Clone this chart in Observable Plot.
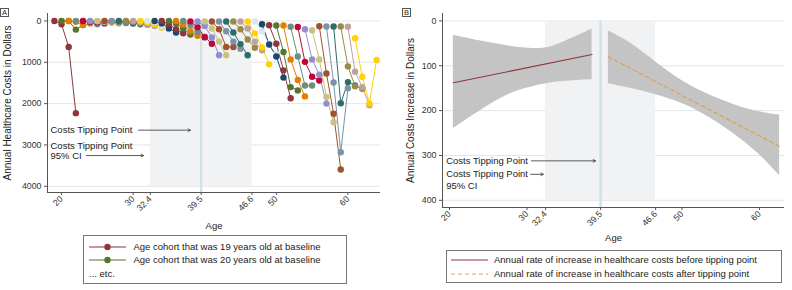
<!DOCTYPE html>
<html>
<head>
<meta charset="utf-8">
<script src="https://cdn.jsdelivr.net/npm/d3@7"></script>
<script src="https://cdn.jsdelivr.net/npm/@observablehq/plot@0.6"></script>
<style>
  body { margin: 0; background: #fff; }
  #chart { position: relative; width: 792px; height: 290px; overflow: hidden;
           font-family: "Liberation Sans", Arial, Helvetica, sans-serif; color: #222; }
  .panel { position: absolute; top: 0; }
  .tag { position: absolute; font-size: 7.5px; line-height: 7px; border: 1px solid #555;
         padding: 0 1px; background: #fff; }
  .legend { position: absolute; border: 1px solid #777; box-sizing: border-box; font-size: 9.5px; background: #fff; }
  .legend .row { position: absolute; left: 0; height: 12px; white-space: nowrap; }
  .legend .row svg { position: absolute; left: 0; top: 0; }
  .legend .row span { position: absolute; top: 0; line-height: 12px; }
</style>
</head>
<body>
<div id="chart"></div>
<script>
// ---- shared axis values ----
const ageTicks = [20, 30, 32.4, 39.5, 46.6, 50, 60];
const costTicks = [0, 1000, 2000, 3000, 4000];
const increaseTicks = [0, 100, 200, 300, 400];
const tippingPoint = 39.5;
const tippingCI = [32.4, 46.6];

// ---- panel A: annual healthcare costs by baseline-age cohort ----
const cohortBaseline = [19, 20, 21, 22, 23, 24, 25, 26, 27, 28, 29, 30, 31, 32, 33, 34, 35, 36, 37, 38,
  39, 40, 41, 42, 43, 44, 45, 46, 47, 48, 49, 50, 51, 52, 53, 54, 55, 56, 57, 58, 59, 60, 61];
const waveOffsets = [0, 1, 2, 3];
const cohortCosts = [
  [0, 80, 630, 2230],
  [0, 0, 210, 100],
  [0, 20, 100, 60],
  [0, 10, 40, 80],
  [0, 20, 30, 60],
  [0, 10, 30, 40],
  [0, 15, 40, 60],
  [0, 10, 30, 50],
  [0, 20, 40, 70],
  [0, 10, 50, 80],
  [0, 20, 60, 90],
  [0, 30, 70, 120],
  [0, 30, 80, 160],
  [0, 20, 120, 200],
  [0, 60, 180, 280],
  [0, 80, 200, 300],
  [0, 60, 180, 330],
  [0, 90, 250, 360],
  [0, 100, 260, 400],
  [10, 150, 390, 550],
  [15, 120, 400, 830],
  [15, 180, 500, 830],
  [15, 200, 630, 630],
  [15, 250, 500, 670],
  [15, 280, 560, 830],
  [15, 200, 450, 650],
  [15, 180, 500, 710],
  [15, 300, 640, 1050],
  [15, 250, 550, 800],
  [80, 570, 860, 1370],
  [104, 550, 1195, 1870],
  [112, 750, 1600, 1680],
  [112, 930, 1430, 1825],
  [140, 860, 1560, 1560],
  [145, 990, 1350, 1440],
  [200, 930, 1300, 2000],
  [225, 930, 1840, 2450],
  [130, 1270, 2245, 3595],
  [135, 1490, 3175, 1630],
  [135, 1990, 1480, 1560],
  [135, 1100, 1580, 1640],
  [140, 1230, 1600, 2040],
  [420, 1350, 1995, 945]
];
const cohortPalette = ["#90353b", "#55752f", "#e37e00", "#6e8e84", "#c10534", "#938dd2", "#cac27e",
  "#a0522d", "#7b92a8", "#2d6d66", "#9c8847", "#bfa19c", "#ffd200", "#d9e6eb", "#1a476f"];
const notesA = [
  {age: 18.46, cost: 2642, label: "Costs Tipping Point"},
  {age: 18.46, cost: 3013, label: "Costs Tipping Point"},
  {age: 18.46, cost: 3256, label: "95% CI"}
];
const arrowsA = [
  {from: 30.75, to: 38.0, cost: 2642},
  {from: 23.5, to: 31.45, cost: 3256}
];

// ---- panel B: fitted annual rate of increase ----
const fitBeforeAge = [20.5, 38.4];
const fitBefore = [138, 75];
const bandBeforeAge = [20.5, 24, 28, 31, 33, 35, 37, 38.4];
const bandBeforeUpper = [32, 45, 58, 63, 60, 45, 30, 18];
const bandBeforeLower = [240, 199, 158, 145, 138, 134, 132, 131];
const fitAfterAge = [40.5, 62.6];
const fitAfter = [80, 280];
const bandAfterAge = [40.5, 43.4, 46.8, 49.8, 52, 55, 58, 60.5, 62.6];
const bandAfterUpper = [22, 47, 95, 132, 153, 176, 195, 205, 210];
const bandAfterLower = [140, 150, 165, 182, 200, 230, 268, 305, 345];
const notesB = [
  {age: 19.57, value: 312, label: "Costs Tipping Point"},
  {age: 19.57, value: 342, label: "Costs Tipping Point"},
  {age: 19.57, value: 367, label: "95% CI"}
];
const arrowsB = [
  {from: 30.58, to: 38.84, value: 312},
  {from: 30.45, to: 32.1, value: 342}
];

const fontFamily = '"Liberation Sans", Arial, Helvetica, sans-serif';
const axisColor = "#555";
const shadeColor = "#f1f2f4";
const tipColor = "#cfe2e9";

// ---- build tables ----
const cohortRows = cohortBaseline.flatMap((base, i) =>
  cohortCosts[i].map((cost, k) => ({
    cohort: base, age: base + waveOffsets[k], cost, color: cohortPalette[i % cohortPalette.length]
  })));
const bandBefore = bandBeforeAge.map((age, i) => ({age, hi: bandBeforeUpper[i], lo: bandBeforeLower[i]}));
const bandAfter = bandAfterAge.map((age, i) => ({age, hi: bandAfterUpper[i], lo: bandAfterLower[i]}));
const lineBefore = fitBeforeAge.map((age, i) => ({age, value: fitBefore[i]}));
const lineAfter = fitAfterAge.map((age, i) => ({age, value: fitAfter[i]}));

const xDomainA = [18.04, 64.55];
const yDomainA = [-180, 4150];
const xDomainB = [19.1, 63.23];
const yDomainB = [-16.5, 416];

function commonMarks(yTicks, yDomain, xDomain, title, titleDx, ageDy) {
  return {
    back: [
      Plot.gridY(yTicks, {stroke: "#e4e4e4", strokeOpacity: 1}),
      Plot.rect([tippingCI], {x1: d => d[0], x2: d => d[1],
        y1: () => yTicks[0], y2: () => yTicks[yTicks.length - 1], fill: shadeColor}),
      Plot.ruleX([tippingPoint], {y1: () => yTicks[0], y2: () => yDomain[1], stroke: tipColor, strokeWidth: 2.5})
    ],
    front: [
      Plot.ruleX([xDomain[0]], {stroke: axisColor, strokeWidth: 1}),
      Plot.ruleY([yDomain[1]], {stroke: axisColor, strokeWidth: 1}),
      Plot.axisX(ageTicks, {tickRotate: -45, tickSize: 3, tickPadding: 2, stroke: axisColor,
        tickFormat: d => String(d), label: null, fill: "#333"}),
      Plot.axisY(yTicks, {tickSize: 3, tickPadding: 3, stroke: axisColor,
        tickFormat: d => String(d), label: null, fill: "#333"}),
      Plot.text([title], {frameAnchor: "left", dx: titleDx, rotate: -90, text: d => d,
        textAnchor: "middle", lineAnchor: "middle", fontSize: 10, fill: "#222"}),
      Plot.text(["Age"], {frameAnchor: "bottom", dy: ageDy, text: d => d,
        textAnchor: "middle", lineAnchor: "middle", fontSize: 9.5, fill: "#222"})
    ]
  };
}

const plotStyle = {fontFamily, fontSize: "8.8px", background: "transparent", overflow: "visible"};

// Panel A
const cmA = commonMarks(costTicks, yDomainA, xDomainA, "Annual Healthcare Costs in Dollars", -40, 33);
const plotA = Plot.plot({
  width: 396, height: 240,
  marginLeft: 47, marginRight: 16, marginTop: 13, marginBottom: 48,
  x: {domain: xDomainA},
  y: {domain: yDomainA, reverse: true},
  color: {type: "identity"},
  style: plotStyle,
  marks: [
    ...cmA.back,
    Plot.text(notesA, {x: "age", y: "cost", text: "label", textAnchor: "start", fontSize: 9.5, fill: "#222"}),
    Plot.arrow(arrowsA, {x1: "from", x2: "to", y1: "cost", y2: "cost", stroke: "#333",
      strokeWidth: 0.8, headLength: 5}),
    Plot.line(cohortRows, {x: "age", y: "cost", z: "cohort", stroke: "color", strokeWidth: 1}),
    Plot.dot(cohortRows, {x: "age", y: "cost", fill: "color", r: 3.2}),
    ...cmA.front
  ]
});

// Panel B
const cmB = commonMarks(increaseTicks, yDomainB, xDomainB, "Annual Costs Increase in Dollars", -32, 30);
const plotB = Plot.plot({
  width: 396, height: 255,
  marginLeft: 46, marginRight: 8, marginTop: 13, marginBottom: 48,
  x: {domain: xDomainB},
  y: {domain: yDomainB, reverse: true},
  style: plotStyle,
  marks: [
    ...cmB.back,
    Plot.areaY(bandBefore, {x: "age", y1: "lo", y2: "hi", fill: "#c4c4c4", curve: "basis"}),
    Plot.areaY(bandAfter, {x: "age", y1: "lo", y2: "hi", fill: "#c4c4c4", curve: "basis"}),
    Plot.line(lineBefore, {x: "age", y: "value", stroke: "#90353b", strokeWidth: 1.1}),
    Plot.line(lineAfter, {x: "age", y: "value", stroke: "#e39a4a", strokeWidth: 1.1, strokeDasharray: "4,3"}),
    Plot.text(notesB, {x: "age", y: "value", text: "label", textAnchor: "start", fontSize: 9.5, fill: "#222"}),
    Plot.arrow(arrowsB, {x1: "from", x2: "to", y1: "value", y2: "value", stroke: "#333",
      strokeWidth: 0.8, headLength: 5}),
    ...cmB.front
  ]
});

// ---- assemble ----
const chart = document.getElementById("chart");
function place(el, left, top) {
  el.classList.add("panel");
  el.style.left = left + "px";
  el.style.top = top + "px";
  chart.appendChild(el);
}
place(plotA, 0, 0);
place(plotB, 396, 0);

function tag(text, left, top) {
  const t = document.createElement("div");
  t.className = "tag";
  t.textContent = text;
  t.style.left = left + "px";
  t.style.top = top + "px";
  chart.appendChild(t);
}
tag("A", 0, 8);
tag("B", 402, 8);

function legend(box, rows) {
  const div = document.createElement("div");
  div.className = "legend";
  Object.assign(div.style, {left: box.left + "px", top: box.top + "px", width: box.width + "px", height: box.height + "px"});
  rows.forEach(r => {
    const row = document.createElement("div");
    row.className = "row";
    row.style.top = (r.y - 6) + "px";
    row.style.width = "100%";
    if (r.stroke) {
      const ns = "http://www.w3.org/2000/svg";
      const svg = document.createElementNS(ns, "svg");
      svg.setAttribute("width", 50); svg.setAttribute("height", 12);
      const ln = document.createElementNS(ns, "line");
      ln.setAttribute("x1", r.x0); ln.setAttribute("x2", r.x1);
      ln.setAttribute("y1", 6); ln.setAttribute("y2", 6);
      ln.setAttribute("stroke", r.stroke); ln.setAttribute("stroke-width", 1.1);
      if (r.dash) ln.setAttribute("stroke-dasharray", r.dash);
      svg.appendChild(ln);
      if (r.dot) {
        const c = document.createElementNS(ns, "circle");
        c.setAttribute("cx", (r.x0 + r.x1) / 2); c.setAttribute("cy", 6); c.setAttribute("r", 3.2);
        c.setAttribute("fill", r.stroke);
        svg.appendChild(c);
      }
      row.appendChild(svg);
    }
    const s = document.createElement("span");
    s.textContent = r.label;
    s.style.left = r.textX + "px";
    row.appendChild(s);
    div.appendChild(row);
  });
  chart.appendChild(div);
}

legend({left: 83, top: 235, width: 264, height: 49}, [
  {y: 10.5, stroke: cohortPalette[0], dot: true, x0: 5, x1: 42, textX: 49.5, label: "Age cohort that was 19 years old at baseline"},
  {y: 24, stroke: cohortPalette[1], dot: true, x0: 5, x1: 42, textX: 49.5, label: "Age cohort that was 20 years old at baseline"},
  {y: 38, textX: 5, label: "... etc."}
]);
legend({left: 446, top: 250, width: 336, height: 33}, [
  {y: 9, stroke: "#90353b", x0: 4, x1: 41, textX: 47, label: "Annual rate of increase in healthcare costs before tipping point"},
  {y: 23, stroke: "#e39a4a", dash: "4,3", x0: 4, x1: 41, textX: 47, label: "Annual rate of increase in healthcare costs after tipping point"}
]);
</script>
</body>
</html>
